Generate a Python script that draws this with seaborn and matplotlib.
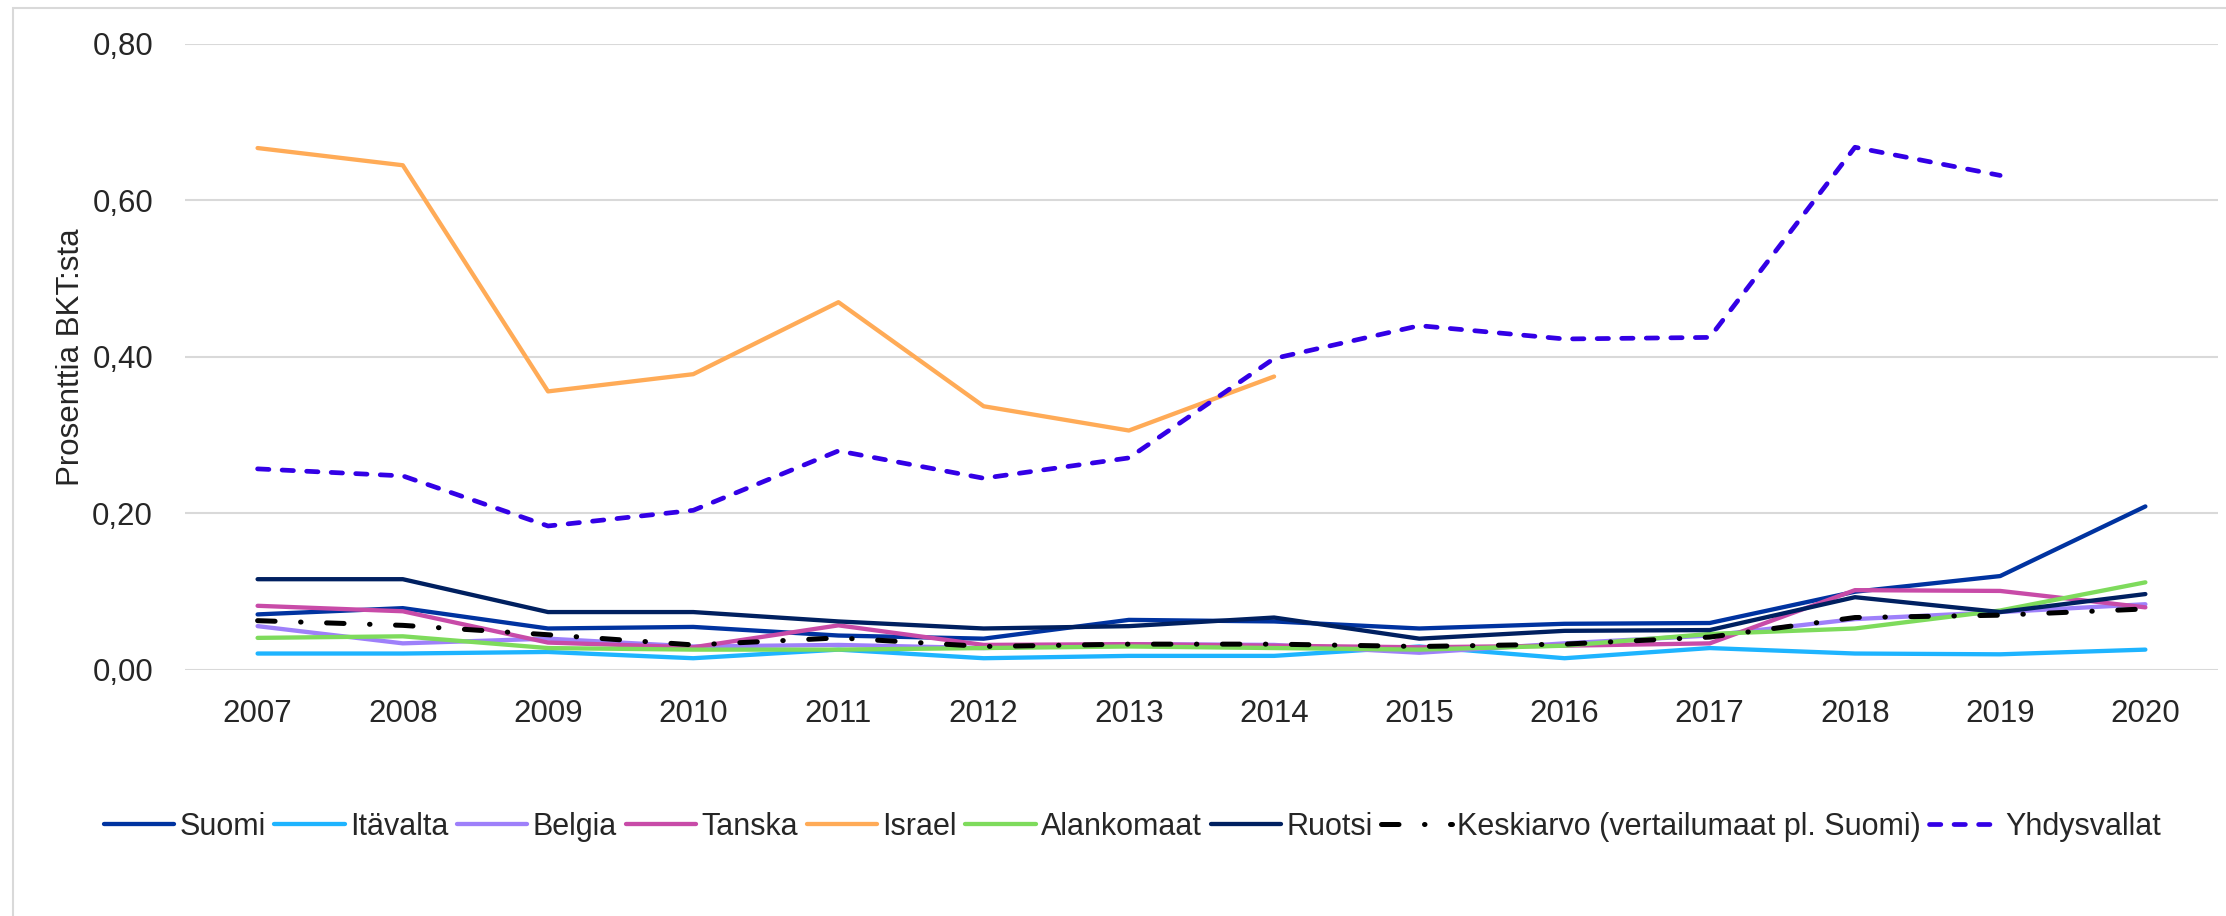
import numpy as np
import pandas as pd
import matplotlib
matplotlib.use("Agg")
import matplotlib.pyplot as plt
from matplotlib.patches import Rectangle
import seaborn as sns

# values (share of GDP, %)
years = list(range(2007, 2021))
suomi = [0.071, 0.079, 0.053, 0.055, 0.044, 0.040, 0.064, 0.062, 0.053, 0.059, 0.060, 0.100, 0.120, 0.209]
itavalta = [0.021, 0.021, 0.023, 0.015, 0.026, 0.015, 0.018, 0.018, 0.030, 0.015, 0.028, 0.021, 0.020, 0.026]
belgia = [0.056, 0.034, 0.040, 0.030, 0.032, 0.028, 0.033, 0.032, 0.022, 0.034, 0.044, 0.065, 0.074, 0.084]
tanska = [0.082, 0.075, 0.035, 0.029, 0.057, 0.032, 0.033, 0.031, 0.029, 0.031, 0.034, 0.102, 0.101, 0.080]
israel = [0.667, 0.645, 0.356, 0.378, 0.470, 0.337, 0.306, 0.375, np.nan, np.nan, np.nan, np.nan, np.nan, np.nan]
alankomaat = [0.041, 0.043, 0.028, 0.026, 0.026, 0.028, 0.030, 0.028, 0.026, 0.031, 0.046, 0.053, 0.076, 0.112]
ruotsi = [0.116, 0.116, 0.074, 0.074, 0.062, 0.053, 0.056, 0.067, 0.040, 0.050, 0.051, 0.093, 0.074, 0.097]
keskiarvo = [0.063, 0.057, 0.045, 0.032, 0.041, 0.030, 0.033, 0.033, 0.030, 0.033, 0.042, 0.067, 0.070, 0.078]
yhdysvallat = [0.257, 0.248, 0.184, 0.204, 0.280, 0.245, 0.271, 0.398, 0.440, 0.423, 0.425, 0.668, 0.632, np.nan]

names = ["Suomi", "Itävalta", "Belgia", "Tanska", "Israel", "Alankomaat", "Ruotsi",
         "Keskiarvo (vertailumaat pl. Suomi)", "Yhdysvallat"]
series = [suomi, itavalta, belgia, tanska, israel, alankomaat, ruotsi, keskiarvo, yhdysvallat]
colors = ["#0033A0", "#1EB4FF", "#9E80FA", "#C84BA8", "#FFAB57", "#7EDB5C", "#002060",
          "#000000", "#3300E6"]

df = pd.DataFrame({"Vuosi": years})
for n, s in zip(names, series):
    df[n] = s
long = df.melt(id_vars="Vuosi", var_name="Maa", value_name="Arvo").dropna()

palette = dict(zip(names, colors))
dashes = {n: "" for n in names}
dashes["Keskiarvo (vertailumaat pl. Suomi)"] = (3.5, 5.1, 0.1, 5.1)
dashes["Yhdysvallat"] = (2.4, 2.8)
sizes = {n: 3.1 for n in names}
sizes["Keskiarvo (vertailumaat pl. Suomi)"] = 3.6
sizes["Yhdysvallat"] = 3.4

sns.set_style("white")
plt.rcParams["font.family"] = ["Liberation Sans", "DejaVu Sans"]
plt.rcParams["lines.solid_capstyle"] = "round"
plt.rcParams["lines.dash_capstyle"] = "round"
plt.rcParams["lines.solid_joinstyle"] = "round"

fs = 22.5

fig = plt.figure(figsize=(22.26, 9.16), dpi=100)
ax = fig.add_axes([0.0831, 0.2686, 0.9133, 0.6834])

sns.lineplot(data=long, x="Vuosi", y="Arvo", hue="Maa", style="Maa", size="Maa",
             hue_order=names, style_order=names, size_order=names,
             palette=palette, dashes=dashes, sizes=sizes,
             estimator=None, errorbar=None, ax=ax)

ax.set_xlim(2006.5, 2020.5)
ax.set_ylim(0, 0.8)
ax.set_xticks(years)
ax.set_yticks([0, 0.2, 0.4, 0.6, 0.8])
ax.yaxis.set_major_formatter(lambda v, _: f"{v:.2f}".replace(".", ","))
ax.grid(axis="y", color="#d9d9d9", linewidth=1.5)
ax.set_axisbelow(True)
for sp in ax.spines.values():
    sp.set_visible(False)
ax.tick_params(axis="both", length=0, labelsize=fs)
ax.tick_params(axis="x", pad=21)
ax.tick_params(axis="y", pad=23)
ax.set_xlabel("")
ax.set_ylabel("Prosenttia BKT:sta", fontsize=fs)
ax.yaxis.set_label_coords(-0.0485, 0.5)

sns.move_legend(ax, "center", bbox_to_anchor=(0.466, -0.251), ncol=9, frameon=False,
                title=None, fontsize=22, handlelength=2.3, handletextpad=0.18,
                columnspacing=0.28)

# light frame around the whole chart
fig.patches.append(Rectangle((13 / 2226, -0.05), 1.2, 1 - 8 / 916 + 0.05,
                             transform=fig.transFigure, fill=False,
                             edgecolor="#d9d9d9", linewidth=1.5))

fig.savefig("out.png", dpi=100)
